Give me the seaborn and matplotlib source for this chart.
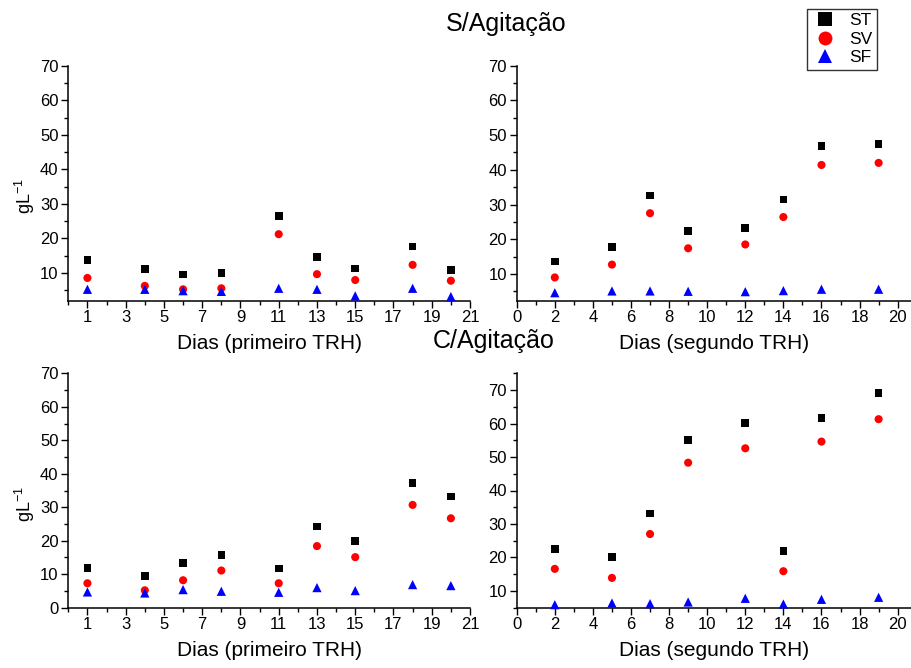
import numpy as np
import pandas as pd
import matplotlib
matplotlib.use("Agg")
import matplotlib.pyplot as plt
from matplotlib.lines import Line2D
from matplotlib.ticker import FixedLocator
import seaborn as sns

# ---------------- data ----------------
dias_primeiro = [1, 4, 6, 8, 11, 13, 15, 18, 20]
dias_segundo = [2, 5, 7, 9, 12, 14, 16, 19]

# S/Agitação - primeiro TRH
s1_st = [13.7, 11.1, 9.5, 9.9, 26.5, 14.6, 11.2, 17.6, 10.8]
s1_sv = [8.5, 6.2, 5.2, 5.5, 21.2, 9.6, 7.9, 12.3, 7.7]
s1_sf = [5.2, 5.2, 4.8, 4.6, 5.5, 5.2, 3.3, 5.5, 3.1]

# S/Agitação - segundo TRH
s2_st = [13.6, 17.8, 32.6, 22.4, 23.3, 31.5, 46.8, 47.4]
s2_sv = [9.0, 12.7, 27.5, 17.4, 18.5, 26.4, 41.4, 42.0]
s2_sf = [4.6, 5.1, 5.1, 5.0, 4.9, 5.2, 5.6, 5.6]

# C/Agitação - primeiro TRH
c1_st = [11.9, 9.4, 13.3, 15.7, 11.7, 24.2, 20.0, 37.3, 33.2]
c1_sv = [7.3, 5.2, 8.2, 11.1, 7.3, 18.4, 15.1, 30.7, 26.7]
c1_sf = [4.7, 4.4, 5.4, 4.9, 4.6, 6.0, 5.1, 6.9, 6.6]

# C/Agitação - segundo TRH
c2_st = [22.6, 20.2, 33.1, 55.0, 60.1, 22.0, 61.7, 69.2]
c2_sv = [16.6, 13.9, 27.0, 48.3, 52.6, 15.9, 54.6, 61.3]
c2_sf = [5.9, 6.4, 6.2, 6.7, 7.8, 6.1, 7.5, 8.1]

series = ["ST", "SV", "SF"]
titulos = ["S/Agitação", "C/Agitação"]
xlabels = ["Dias (primeiro TRH)", "Dias (segundo TRH)"]
ylabel = r"gL$^{\mathregular{-1}}$"

colors = {"ST": "#000000", "SV": "#ff0000", "SF": "#0000ff"}
markers = {"ST": "s", "SV": "o", "SF": "^"}
msizes = {"ST": 30, "SV": 34, "SF": 44}

# ---------------- style ----------------
sns.set_style("ticks")
plt.rcParams["font.family"] = ["Liberation Sans", "DejaVu Sans"]
plt.rcParams["mathtext.fontset"] = "custom"
plt.rcParams["mathtext.rm"] = "Liberation Sans"
for k in ["text.color", "axes.labelcolor", "xtick.color", "ytick.color", "axes.edgecolor"]:
    plt.rcParams[k] = "black"


def long_df(x, st, sv, sf):
    frames = []
    for name, vals in zip(series, [st, sv, sf]):
        frames.append(pd.DataFrame({"Dia": x, "valor": vals, "serie": name}))
    return pd.concat(frames, ignore_index=True)


W, H = 912, 668
fig = plt.figure(figsize=(W / 100, H / 100), dpi=100)


def px_axes(left, right, top, bottom):
    return fig.add_axes([left / W, 1 - bottom / H, (right - left) / W, (bottom - top) / H])


panels = [
    ((68.3, 470, 66, 300.7), (dias_primeiro, s1_st, s1_sv, s1_sf), (0, 21),
     np.arange(1, 22, 2), np.arange(0, 22, 2), (1.9, 70), np.arange(10, 71, 10), np.arange(5, 70, 10), xlabels[0]),
    ((516.7, 911, 65.7, 300.7), (dias_segundo, s2_st, s2_sv, s2_sf), (0, 20.7),
     np.arange(0, 21, 2), np.arange(1, 21, 2), (2.3, 70), np.arange(10, 71, 10), np.arange(5, 70, 10), xlabels[1]),
    ((68.3, 470, 373.3, 607.7), (dias_primeiro, c1_st, c1_sv, c1_sf), (0, 21),
     np.arange(1, 22, 2), np.arange(0, 22, 2), (0, 70), np.arange(0, 71, 10), np.arange(5, 70, 10), xlabels[0]),
    ((516.7, 911, 373.3, 607.7), (dias_segundo, c2_st, c2_sv, c2_sf), (0, 20.7),
     np.arange(0, 21, 2), np.arange(1, 21, 2), (5, 75), np.arange(10, 71, 10), np.arange(5, 76, 10), xlabels[1]),
]

for box, data, xlim, xmaj, xmin, ylim, ymaj, ymin, xl in panels:
    ax = px_axes(*box)
    df = long_df(*data)
    sns.scatterplot(data=df, x="Dia", y="valor", hue="serie", style="serie", size="serie",
                    palette=colors, markers=markers, sizes=msizes, linewidth=0,
                    legend=False, ax=ax, clip_on=False, zorder=3)
    ax.set_xlim(*xlim)
    ax.set_ylim(*ylim)
    ax.xaxis.set_major_locator(FixedLocator(xmaj))
    ax.xaxis.set_minor_locator(FixedLocator(xmin))
    ax.yaxis.set_major_locator(FixedLocator(ymaj))
    ax.yaxis.set_minor_locator(FixedLocator(ymin))
    ax.tick_params(which="major", direction="out", length=5, width=1, labelsize=12, pad=2,
                   color="black", labelcolor="black")
    ax.tick_params(which="minor", direction="out", length=3, width=1, color="black")
    for sp in ["top", "right"]:
        ax.spines[sp].set_visible(False)
    for sp in ["left", "bottom"]:
        ax.spines[sp].set_linewidth(1.1)
        ax.spines[sp].set_color("black")
    ax.set_xlabel(xl, fontsize=15, labelpad=6, color="black")
    ax.set_ylabel("")

# y labels
fig.text(25 / W, 1 - 196 / H, ylabel, rotation=90, ha="center", va="center", fontsize=13, color="black")
fig.text(25 / W, 1 - 504 / H, ylabel, rotation=90, ha="center", va="center", fontsize=13, color="black")

# titles
fig.text(506 / W, 1 - 24 / H, titulos[0], ha="center", va="center", fontsize=18, color="black")
fig.text(494 / W, 1 - 341 / H, titulos[1], ha="center", va="center", fontsize=18, color="black")

# legend
handles = [Line2D([], [], linestyle="none", marker=markers[s], color=colors[s],
                  markersize=10, markeredgewidth=0) for s in series]
leg = fig.legend(handles, series, loc="upper left",
                 bbox_to_anchor=(806.7 / W, 1 - 8.7 / H), frameon=True, fancybox=False,
                 fontsize=12.5, borderaxespad=0, borderpad=0.25, handletextpad=0.6,
                 labelspacing=0.2, handlelength=1.6)
leg.get_frame().set_edgecolor("black")
leg.get_frame().set_linewidth(1.0)
for t in leg.get_texts():
    t.set_color("black")

fig.savefig("out.png", dpi=100)
